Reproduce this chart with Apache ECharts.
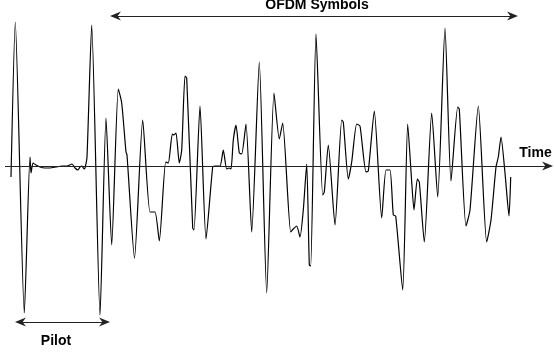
<!DOCTYPE html>
<html>
<head>
<meta charset="utf-8">
<script src="https://cdn.jsdelivr.net/npm/echarts@6/dist/echarts.min.js"></script>
<style>html,body{margin:0;padding:0;background:#fff}#c{width:554px;height:358px}</style>
</head>
<body>
<div id="c"></div>
<script>
// time samples (arbitrary time units) and signal amplitude
var timeValues = [11,15.3,24.3,30,31,33,36,40,45,50,56,62,67,72,75,78,80,82,84,85,87,91.7,100,106,111.7,118.3,121.7,126,127,134.5,142.7,150,155,159.3,165.7,168.3,172.3,174,176,179.3,181.7,185,186.7,192.7,194,200,206,212.7,215,220,223.3,226.7,229,231,233.3,236,239.3,241.7,246,251.7,259.3,266.7,274,279.3,282.7,290.7,293.3,296.7,300,303.3,306.7,309.3,310.7,316,322.7,324.3,328.3,335,341.7,343.3,348.3,351.7,356.7,360,366,368.3,374.3,381.7,386,390,393.3,395.7,402.7,407.7,411.7,414,417.3,419.3,424.3,431.7,437.7,445,451,457.7,459.3,466,470,478.3,486.7,491,496,498.3,501,505,509,510.7];
var amplitude = [-11,144,-147,9,-7,3,1,-1,-2,-2,-1,0,0,2,-2,-4,-1,0,-3,-2,9,141,-149,48,-79,77,63,14,11,-92,46,-46,-46,-75,4,3,32,31,33,3,16,90,88,-62,-64,60,-73,-1,0,0,16,-3,-2,-3,26,41,13,12,42,-66,104,-127,73,27,43,-66,-63,-60,-71,-44,2,-99,-100,132,-29,-26,21,-59,46,44,-13,4,42,40,-6,-5,55,-52,-4,-4,-49,-50,-124,42,-16,-44,-13,-16,-76,53,-31,138,-15,59,57,-60,-44,60,-76,-54,-1,9,29,-7,-50,-11];
// annotation spans (time units, arrow tip to arrow tip) and levels (amplitude units)
var timeAxisSpan = [5, 553];
var ofdmSpan = [110, 518], ofdmLevel = 150;
var pilotSpan = [15, 110], pilotLevel = -156;
var labels = ['OFDM Symbols', 'Pilot', 'Time'];

var signal = timeValues.map(function (t, i) { return [t, amplitude[i]]; });
var arrowPath = 'path://M5,0 L10,13 L5,9 L0,13 Z';
var arrowLen = 11, half = arrowLen / 2;
function head(x, y) { return {coord: [x, y], symbol: arrowPath, symbolSize: [9, arrowLen]}; }
var chart = echarts.init(document.getElementById('c'), null, {renderer: 'canvas'});
var lineStyle = {color: '#222', width: 1, type: 'solid'};
var labelFont = 'bold 14px "Liberation Sans", Arial, sans-serif';
chart.setOption({
  animation: false,
  grid: {left: 0, right: 0, top: 0, bottom: 0},
  xAxis: {type: 'value', min: 0, max: 554, show: false},
  yAxis: {type: 'value', min: -192, max: 166, show: false},
  series: [{
    type: 'line',
    data: signal,
    showSymbol: false,
    symbol: 'none',
    smooth: 0.2,
    lineStyle: {color: '#000', width: 1.2},
    z: 3,
    markLine: {
      silent: true,
      symbol: ['none', 'none'],
      label: {show: false},
      lineStyle: lineStyle,
      data: [
        [{coord: [timeAxisSpan[0], 0], symbol: 'none'}, head(timeAxisSpan[1] - half, 0)],
        [head(ofdmSpan[0] + half, ofdmLevel), head(ofdmSpan[1] - half, ofdmLevel)],
        [head(pilotSpan[0] + half, pilotLevel), head(pilotSpan[1] - half, pilotLevel)]
      ]
    }
  }],
  graphic: [
    {type: 'text', x: 317, y: 5.5, style: {text: labels[0], font: labelFont, fill: '#000', align: 'center', verticalAlign: 'middle'}},
    {type: 'text', x: 56, y: 341.5, style: {text: labels[1], font: labelFont, fill: '#000', align: 'center', verticalAlign: 'middle'}},
    {type: 'text', x: 535.5, y: 153, style: {text: labels[2], font: labelFont, fill: '#000', align: 'center', verticalAlign: 'middle'}}
  ]
});
</script>
</body>
</html>
